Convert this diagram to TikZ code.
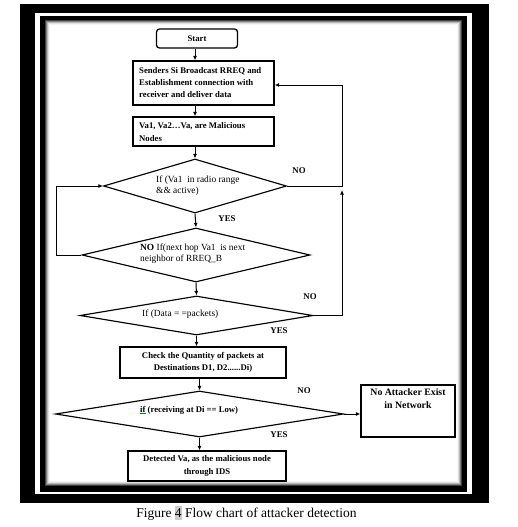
\documentclass[tikz,border=0pt]{standalone}
\usepackage{fontspec}
\setmainfont{Liberation Serif}
\usetikzlibrary{shapes.geometric,arrows.meta,calc}
\tikzset{
  boxtext/.style={font=\fontsize{8.7}{12.2}\selectfont\bfseries},
  dtext/.style={font=\fontsize{9.4}{10.8}\selectfont, align=left, inner sep=0pt},
  procbox/.style={draw, line width=1.3pt, rectangle, inner sep=0pt},
  decision/.style={draw, diamond, line width=1.15pt, inner sep=0pt, text=black},
  arr/.style={line width=1pt, -{Latex[length=4.5pt,width=4pt]}},
  lbl/.style={font=\fontsize{8.8}{10}\selectfont\bfseries, inner sep=0pt}
}
\begin{document}
\begin{tikzpicture}[x=1pt,y=-1pt]
\useasboundingbox (0,0) rectangle (517,527);
% frame
\fill[white] (0,0) rectangle (517,527);
\fill[black] (20,4) rectangle (489,503);
\fill[white] (35,13) rectangle (472,494);
\fill[black] (40,16) rectangle (467,492);
\fill[white] (45,20) rectangle (462,486);
\draw[black!75, line width=1pt] (45.5,20.5) rectangle (461.5,485.5);
\draw[black!50, line width=1pt] (46.5,21.5) rectangle (460.5,484.5);
\draw[black!28, line width=1pt] (47.5,22.5) rectangle (459.5,483.5);
\draw[black!12, line width=1pt] (48.5,23.5) rectangle (458.5,482.5);
\draw[black!4, line width=1pt] (49.5,24.5) rectangle (457.5,481.5);

% nodes
\node[procbox, rounded corners=3pt, minimum width=81pt, minimum height=19pt, boxtext] (start) at (197,38.5) {Start};
\node[procbox, minimum width=141pt, minimum height=44pt] (box2) at (203.5,83) {};
\node[boxtext, align=left, anchor=west, inner sep=0pt] (t2) at (139,82.5) {Senders Si Broadcast RREQ and\\Establishment connection with\\receiver and deliver data};
\node[procbox, minimum width=141pt, minimum height=29pt] (box3) at (203.5,131.5) {};
\node[boxtext, align=left, anchor=west, inner sep=0pt] (t3) at (139,132) {Va1, Va2…Va, are Malicious\\Nodes};

\node[decision, minimum width=183pt, minimum height=54pt] (d1) at (195,186) {};
\node[dtext, anchor=west] (t4) at (156,185.5) {If (Va1~ in radio range\\\&\& active)};

\node[decision, minimum width=228pt, minimum height=54pt] (d2) at (196,255) {};
\node[dtext, anchor=west] (t5) at (140,254) {\textbf{NO} If(next hop Va1~ is next\\neighbor of RREQ\_B};

\node[decision, minimum width=233pt, minimum height=39pt] (d3) at (196.5,315.5) {};
\node[dtext, anchor=west] (t6) at (142,314) {If (Data = =packets)};

\node[procbox, minimum width=166pt, minimum height=31pt, boxtext, align=center] (box4) at (203,362.5) {Check the Quantity of packets at\\Destinations D1, D2......Di)};

\node[decision, minimum width=288pt, minimum height=46pt] (d4) at (199.5,414) {};
\node[boxtext, anchor=west, inner sep=0pt] (t7) at (140,410) {{\color{green!55!black}$\underline{\hbox{\color{black}if}}$} (receiving at Di == Low)};

\node[procbox, minimum width=94pt, minimum height=52pt] (box5) at (408,411) {};
\node[font=\fontsize{9.8}{13}\selectfont\bfseries, align=center, anchor=north, inner sep=0pt] (t8) at ($(box5.north)+(0,4.5)$) {No Attacker Exist\\in Network};

\node[procbox, minimum width=158pt, minimum height=30pt, boxtext, align=center] (box6) at (207,466) {Detected Va, as the malicious node\\through IDS};

% labels
\node[lbl] (no1) at (299,171) {NO};
\node[lbl] (yes1) at (227,219) {YES};
\node[lbl] (no3) at (310,297) {NO};
\node[lbl] (yes3) at (279,331) {YES};
\node[lbl] (no4) at (304,391) {NO};
\node[lbl] (yes4) at (279,435) {YES};

% connectors
\coordinate (rx) at (342,0);
\coordinate (lx) at (56,0);
\draw[arr] (start.south -| d1.north) -- (box2.north -| d1.north);
\draw[arr] (box2.south -| d1.north) -- (box3.north -| d1.north);
\draw[arr] (box3.south -| d1.north) -- (d1.north);
\draw[arr] (d1.south) -- (d2.north);
\draw[arr] (d2.south) -- (d3.north);
\draw[arr] (d3.south) -- (box4.north -| d3.south);
\draw[arr] (box4.south -| d4.north) -- (d4.north);
\draw[arr] (d4.south) -- (box6.north -| d4.south);
\draw[arr] (d4.east) -- (d4.east -| box5.west);
\draw[arr] (d1.east) -- (d1.east -| rx) |- ([yshift=-2pt]box2.east);
\draw[arr] (d3.east) -- (d3.east -| rx) -- ([yshift=-4pt]d1.east -| rx);
\draw[arr] (d2.west) -- (d2.west -| lx) |- (d1.west);

% caption
\node[font=\fontsize{13.5}{16}\selectfont, inner sep=0pt] (cap) at (246.5,513) {Figure \colorbox{black!20}{\hspace{-3pt}4\hspace{-3pt}} Flow chart of attacker detection};
\end{tikzpicture}
\end{document}
